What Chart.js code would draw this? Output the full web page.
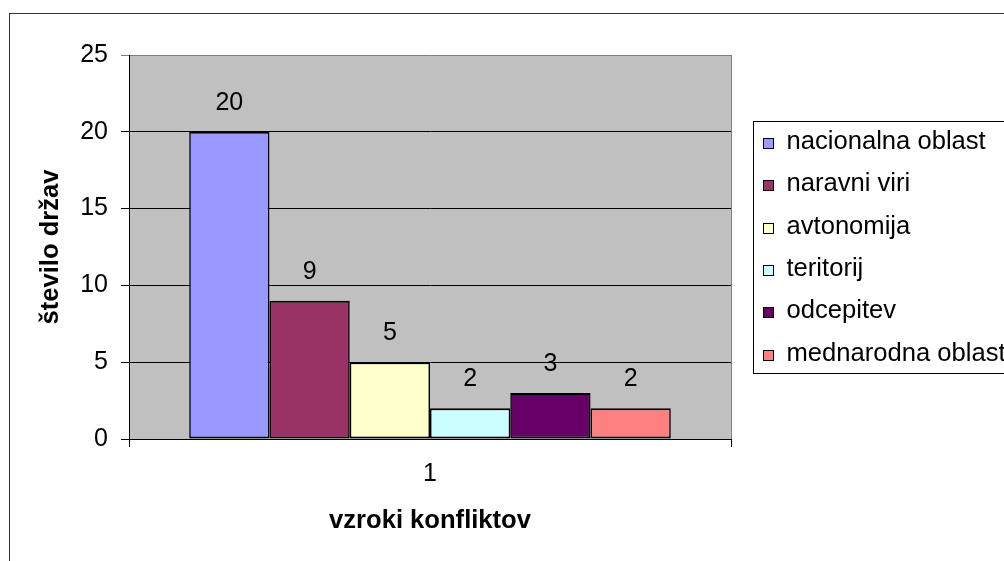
<!DOCTYPE html>
<html>
<head>
<meta charset="utf-8">
<script src="https://cdn.jsdelivr.net/npm/chart.js@4.4.1/dist/chart.umd.min.js"></script>
<style>
  body { margin: 0; overflow: hidden; background: #fff; }
</style>
</head>
<body>
<canvas id="chart" width="1004" height="561"></canvas>
<script>
// chart data
const categories = ['1'];
const seriesNames = ['nacionalna oblast', 'naravni viri', 'avtonomija', 'teritorij', 'odcepitev', 'mednarodna oblast'];
const seriesValues = [20, 9, 5, 2, 3, 2];
const seriesColors = ['#9999FF', '#993366', '#FFFFCC', '#CCFFFF', '#660066', '#FF8080'];
const yTicks = [0, 5, 10, 15, 20, 25];
const yTitle = 'število držav';
const xTitle = 'vzroki konfliktov';

const FONT = '"Liberation Sans", Arial, sans-serif';

// one dataset per cause, all on the single category
const datasets = seriesNames.map((name, i) => ({
    label: name,
    data: [seriesValues[i]],
    backgroundColor: seriesColors[i],
    borderColor: '#000',
    borderWidth: {top: 2, bottom: 2, left: 1.6, right: 1.6},
    borderSkipped: false,
    categoryPercentage: 0.8,
    barPercentage: 1
}));

// grey plot area
const plotBack = {
    id: 'plotBack',
    beforeDraw(chart) {
        const {ctx, chartArea: a} = chart;
        ctx.save();
        ctx.fillStyle = '#C0C0C0';
        ctx.fillRect(a.left, a.top, a.right - a.left, a.bottom - a.top);
        ctx.restore();
    }
};

// numbers above the bars
const valueLabels = {
    id: 'valueLabels',
    afterDatasetsDraw(chart) {
        const ctx = chart.ctx;
        ctx.save();
        ctx.font = '25px ' + FONT;
        ctx.fillStyle = '#000';
        ctx.textAlign = 'center';
        ctx.textBaseline = 'middle';
        chart.data.datasets.forEach((ds, i) => {
            chart.getDatasetMeta(i).data.forEach((bar, j) => {
                ctx.fillText(ds.data[j], bar.x, bar.y - 29);
            });
        });
        ctx.restore();
    }
};

// frame, plot border and the boxed legend
const frameAndLegend = {
    id: 'frameAndLegend',
    afterDraw(chart) {
        const {ctx, chartArea: a, width, height} = chart;
        ctx.save();
        ctx.lineWidth = 1;

        // right edge of plot area
        ctx.strokeStyle = '#808080';
        ctx.beginPath();
        ctx.moveTo(Math.round(a.right) + 0.5, a.top);
        ctx.lineTo(Math.round(a.right) + 0.5, a.bottom);
        ctx.stroke();

        // outer frame
        ctx.strokeStyle = '#333';
        ctx.strokeRect(9.5, 13.5, width + 20, height + 20);

        // legend box
        ctx.strokeStyle = '#000';
        ctx.strokeRect(753.5, 121.5, 300, 252);

        ctx.font = '25.6px ' + FONT;
        ctx.textAlign = 'left';
        ctx.textBaseline = 'alphabetic';
        chart.data.datasets.forEach((ds, i) => {
            const base = Math.round(149 + 42.3 * i);
            ctx.fillStyle = ds.backgroundColor;
            ctx.fillRect(763, base - 11, 11, 11);
            ctx.strokeStyle = '#000';
            ctx.strokeRect(763.5, base - 10.5, 10, 10);
            ctx.fillStyle = '#000';
            ctx.fillText(ds.label, 786.5, base);
        });
        ctx.restore();
    }
};

const chart = new Chart(document.getElementById('chart'), {
    type: 'bar',
    data: {
        labels: categories,
        datasets: datasets
    },
    options: {
        responsive: false,
        animation: false,
        layout: {
            padding: {left: 0, top: 55, right: 273, bottom: 0}
        },
        plugins: {
            legend: {display: false},
            tooltip: {enabled: false}
        },
        scales: {
            x: {
                offset: true,
                grid: {
                    offset: true,
                    drawOnChartArea: false,
                    drawTicks: true,
                    tickLength: 8,
                    color: '#000'
                },
                border: {display: true, color: '#000', width: 1},
                ticks: {
                    color: '#000',
                    padding: 12,
                    font: {family: FONT, size: 25}
                },
                title: {
                    display: true,
                    text: xTitle,
                    color: '#000',
                    font: {family: FONT, size: 25.6, weight: 'bold'},
                    padding: {top: 0, bottom: 25}
                },
                afterFit(scale) {
                    scale.height = 122;
                }
            },
            y: {
                min: 0,
                max: 25,
                afterBuildTicks(scale) {
                    scale.ticks = yTicks.map(v => ({value: v}));
                },
                grid: {
                    color: c => (c.tick && c.tick.value === 25) ? '#808080' : '#000',
                    tickColor: c => (c.tick && c.tick.value === 25) ? '#808080' : '#000',
                    tickLength: 8
                },
                border: {display: true, color: '#000', width: 1},
                ticks: {
                    color: '#000',
                    padding: 13,
                    font: {family: FONT, size: 25}
                },
                title: {
                    display: true,
                    text: yTitle,
                    color: '#000',
                    font: {family: FONT, size: 25.6, weight: 'bold'},
                    padding: {top: 36, bottom: 0}
                },
                afterFit(scale) {
                    scale.width = 129;
                }
            }
        }
    },
    plugins: [plotBack, valueLabels, frameAndLegend]
});
</script>
</body>
</html>
